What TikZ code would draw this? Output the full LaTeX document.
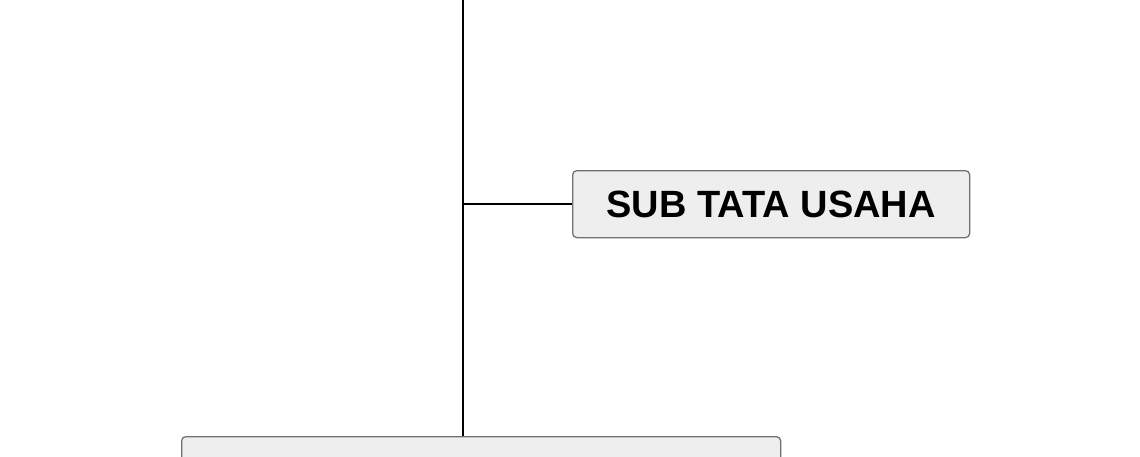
\documentclass[tikz,border=0pt]{standalone}
\usepackage{fontspec}
\setmainfont{Liberation Sans}
\usetikzlibrary{positioning}
\definecolor{boxfill}{HTML}{EEEEEE}
\definecolor{boxline}{HTML}{707070}
\tikzset{
    unitbox/.style={draw=boxline,fill=boxfill,line width=0.9pt,rounded corners=3pt,inner sep=0pt},
    link/.style={black,line width=1.5pt}
}
\begin{document}
\begin{tikzpicture}[x=0.025cm,y=0.025cm]
    \clip (0,0) rectangle (1140,-456);
    \useasboundingbox (0,0) rectangle (1140,-456);
    \fill[white] (0,0) rectangle (1140,-456);
    % Top of the main line
    \coordinate (top) at (463,0);
    % Sub unit box
    \node[unitbox,minimum width=397*0.025cm,minimum height=67*0.025cm,anchor=north west] (subtu) at (572,-170) {
        \fontsize{27}{30}\selectfont\bfseries SUB TATA USAHA
    };
    % Lower box, cut off by the page edge
    \node[unitbox,minimum width=599*0.025cm,minimum height=60*0.025cm,anchor=north west] (lower) at (181,-436) {};
    % Connectors
    \draw[link] (top) -- (top |- lower.north);
    \draw[link] (top |- subtu.west) -- (subtu.west);
\end{tikzpicture}
\end{document}
